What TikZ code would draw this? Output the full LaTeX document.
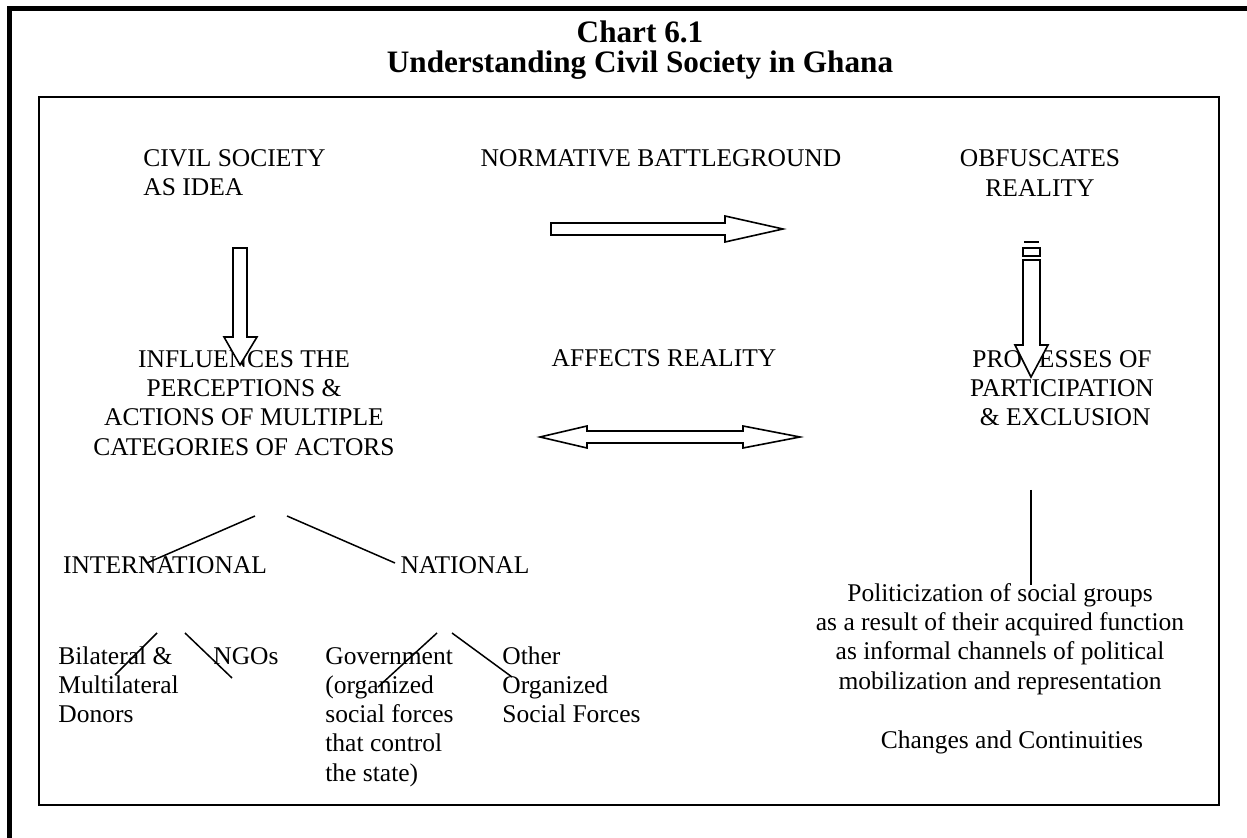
\documentclass[tikz,border=0pt]{standalone}
\usepackage{fontspec}
\setmainfont{Liberation Serif}
\usepackage{tikz}
\usetikzlibrary{positioning, calc}
\newcommand{\bodyfont}{\fontsize{12.75}{14.6}\selectfont}
\newcommand{\titlefont}{\fontsize{15.6}{16}\selectfont\bfseries}
\tikzset{
	txt/.style      ={inner sep=0pt, align=center, font=\bodyfont},
	txtl/.style     ={inner sep=0pt, align=left, anchor=west, font=\bodyfont},
	ttl/.style      ={inner sep=0pt, anchor=base, font=\titlefont},
	blockarrow/.style={draw=black, fill=white, line width=0.8pt, line join=miter},
	branch/.style   ={draw=black, line width=0.75pt},
}

\begin{document}
\begin{tikzpicture}[x=0.5pt, y=-0.5pt]
	\useasboundingbox (0,0) rectangle (1247,838);
	% frames
	\draw[line width=2.5pt, line join=miter] (9.5,838) -- (9.5,8.5) -- (1247,8.5);
	\draw[line width=1pt] (39,97) rectangle (1219,805);
	% title
	\node[ttl] (chartno) at (640,42.5) {Chart 6.1};
	\node[ttl] (charttitle) at (640,72.5) {Understanding Civil Society in Ghana};
	% top row
	\node[txtl] (idea) at (143,173) {CIVIL SOCIETY\\AS IDEA};
	\node[txt] (battle) at (661,158) {NORMATIVE BATTLEGROUND};
	\node[txt] (obfus) at (1040,173) {OBFUSCATES\\REALITY};
	% middle row
	\node[txt] (influ) at (244,403) {INFLUENCES THE\\PERCEPTIONS \&\\ACTIONS OF MULTIPLE\\CATEGORIES OF ACTORS};
	\node[txt] (affects) at (664,358) {AFFECTS REALITY};
	\node[txt] (proc) at (1062,388) {PROCESSES OF\\PARTICIPATION\\\ \& EXCLUSION};
	% block arrows
	\filldraw[blockarrow] (551,223) -- (725,223) -- (725,216) -- (783,229) -- (725,242) -- (725,235) -- (551,235) -- cycle;
	\filldraw[blockarrow] (233,248) -- (247,248) -- (247,337) -- (257,337) -- (240,365) -- (224,337) -- (233,337) -- cycle;
	\filldraw[blockarrow] (1023,260) -- (1040,260) -- (1040,345) -- (1048,345) -- (1031,377) -- (1015,345) -- (1023,345) -- cycle;
	\draw[blockarrow] (1023,248) rectangle (1040,256);
	\draw[line width=1.2pt] (1024,242) -- (1039,242);
	\filldraw[blockarrow] (540,437) -- (587,426) -- (587,431) -- (743,431) -- (743,426) -- (800,437) -- (743,448) -- (743,443) -- (587,443) -- (587,448) -- cycle;
	% actors
	\node[txt] (intl) at (165,565) {INTERNATIONAL};
	\node[txt] (natl) at (465,565) {NATIONAL};
	\node[txtl] (bilat) at (58,685) {Bilateral \&\\Multilateral\\Donors};
	\node[txtl] (ngos) at (213,656) {NGOs};
	\node[txtl] (govt) at (325,717) {Government\\(organized\\social forces\\that control\\the state)};
	\node[txtl] (other) at (502,685) {Other\\Organized\\Social Forces};
	% right column
	\node[txt] (polit) at (1000,639) {Politicization of social groups\\as a result of their acquired function\\as informal channels of political\\mobilization and representation};
	\node[txt] (changes) at (1012,742) {Changes and Continuities};
	% branch ends
	\coordinate (intlA) at (255,516);
	\coordinate (intlB) at (147,563);
	\coordinate (natlA) at (287,516);
	\coordinate (natlB) at (395,563);
	\coordinate (bilatA) at (157,633);
	\coordinate (bilatB) at (115,675);
	\coordinate (ngosA) at (185,633);
	\coordinate (ngosB) at (232,678);
	\coordinate (govtA) at (437,633);
	\coordinate (govtB) at (378,687);
	\coordinate (otherA) at (452,633);
	\coordinate (otherB) at (512,677);
	\coordinate (politA) at (1031,490);
	\coordinate (politB) at (1031,585);
	\draw[branch] (intlA) -- (intlB);
	\draw[branch] (natlA) -- (natlB);
	\draw[branch] (bilatA) -- (bilatB);
	\draw[branch] (ngosA) -- (ngosB);
	\draw[branch] (govtA) -- (govtB);
	\draw[branch] (otherA) -- (otherB);
	\draw[branch] (politA) -- (politB);
\end{tikzpicture}
\end{document}
